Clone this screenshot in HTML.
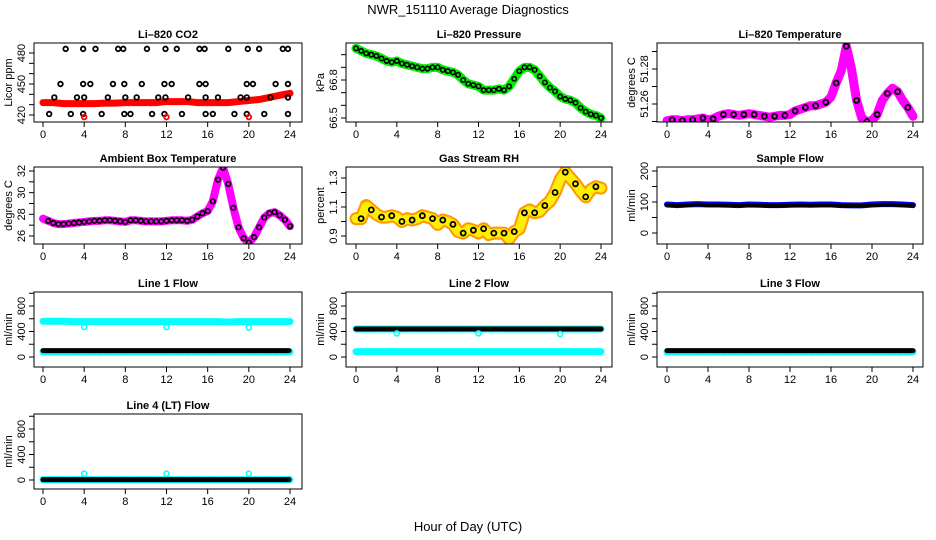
<!DOCTYPE html>
<html><head><meta charset="utf-8"><style>
body{margin:0;background:#fff;}
svg{display:block;font-family:"Liberation Sans",Arial,sans-serif;}
</style></head><body>
<svg id="chart" width="936" height="540" viewBox="0 0 936 540" xmlns="http://www.w3.org/2000/svg">
<rect width="936" height="540" fill="#fff"/>
<text x="468" y="14" font-size="13" text-anchor="middle">NWR_151110  Average Diagnostics</text>
<text x="468" y="531" font-size="13" text-anchor="middle">Hour of Day (UTC)</text>
</svg>
<script>
const NS='http://www.w3.org/2000/svg';
const svg=document.getElementById('chart');
const xTicks=[0,4,8,12,16,20,24];
const hrsHalf=[0,0.5,1,1.5,2,2.5,3,3.5,4,4.5,5,5.5,6,6.5,7,7.5,8,8.5,9,9.5,10,10.5,11,11.5,12,12.5,13,13.5,14,14.5,15,15.5,16,16.5,17,17.5,18,18.5,19,19.5,20,20.5,21,21.5,22,22.5,23,23.5,24];
const hrsHour=[0,1,2,3,4,5,6,7,8,9,10,11,12,13,14,15,16,17,18,19,20,21,22,23,24];
const co2Band=[432,432,431,431,431,431,431.5,431.5,432,432,432,432,433,433,433,432,432,432,432,433,434,435,437,439,441];
const co2Hrs=[0.6,1.1,1.7,2.2,2.7,3.3,3.9,3.9,4.0,3.9,4.6,5.1,5.7,6.3,6.8,7.3,7.8,7.9,7.9,8,8.5,9.1,9.6,10.1,10.6,11.2,11.8,11.9,11.8,11.9,12.5,13.0,13.5,14.1,15.2,15.2,15.7,15.8,15.8,15.8,16.5,17,18,18.6,19.2,19.8,19.8,19.8,19.9,20.4,21.0,21.5,22.1,22.6,23.3,23.8,23.8,23.8,23.8];
const co2Vals=[421,437,450,484,421,437,484,450,437,421,450,484,421,437,450,484,484,450,421,437,421,437,450,484,421,437,450,484,421,437,450,484,421,437,450,484,484,450,421,437,421,437,484,421,437,450,421,437,484,450,484,421,437,450,484,484,450,437,421];
const co2OutHrs=[4,12,20];
const co2OutVals=[418,418,418];
const pressVals=[67.05,67.03,67.01,67.0,66.99,66.97,66.95,66.94,66.95,66.93,66.92,66.91,66.90,66.89,66.89,66.90,66.90,66.88,66.87,66.86,66.84,66.80,66.77,66.76,66.75,66.72,66.72,66.72,66.73,66.72,66.75,66.81,66.87,66.90,66.90,66.88,66.83,66.78,66.74,66.71,66.67,66.65,66.64,66.62,66.58,66.55,66.53,66.52,66.50];
const tempVals=[51.2505,51.251,51.251,51.2505,51.251,51.251,51.2515,51.252,51.251,51.2515,51.253,51.254,51.2545,51.254,51.2535,51.254,51.2545,51.254,51.2535,51.253,51.2525,51.253,51.2535,51.2535,51.254,51.256,51.257,51.258,51.259,51.259,51.26,51.261,51.264,51.272,51.279,51.293,51.28,51.262,51.252,51.25,51.2505,51.254,51.262,51.266,51.269,51.267,51.262,51.258,51.253];
const ambVals=[27.6,27.4,27.2,27.1,27.1,27.15,27.2,27.25,27.3,27.35,27.4,27.4,27.45,27.45,27.4,27.35,27.3,27.45,27.45,27.4,27.35,27.35,27.35,27.35,27.4,27.45,27.45,27.45,27.4,27.5,27.8,28.1,28.3,29.2,31.2,32.3,30.8,28.6,26.8,25.8,25.4,25.9,26.8,27.7,28.1,28.2,27.9,27.5,26.9];
const rhVals=[1.02,1.02,1.11,1.08,1.05,1.03,1.03,1.04,1.03,1.00,1.02,1.01,1.02,1.04,1.03,1.02,0.98,1.01,1.00,0.98,0.93,0.92,0.95,0.94,0.92,0.95,0.91,0.92,0.92,0.92,0.88,0.93,0.95,1.06,1.08,1.06,1.07,1.11,1.14,1.20,1.29,1.34,1.30,1.26,1.21,1.17,1.22,1.24,1.23];
const sampleBand=[92,90,92,93,92,92,91,90,92,91,90,90,91,92,91,92,92,90,89,89,92,93,93,92,90];
const sampleBlack=[90,88,90,92,90,90,89,88,90,89,88,88,89,90,89,90,90,88,88,88,90,91,91,90,89];
const l1High=[560,560,560,555,555,555,555,555,555,555,555,555,555,555,555,555,555,555,550,555,555,555,555,555,555];
const l1Low=[80,80,80,80,80,80,80,80,80,80,80,80,80,80,80,80,80,80,80,80,80,80,80,80,80];
const l1Black=[100,100,100,100,100,100,100,100,100,100,100,100,100,100,100,100,100,100,100,100,100,100,100,100,100];
const l1DipHrs=[4,12,20];
const l1DipVals=[470,470,460];
const l2High=[440,440,440,440,440,440,440,440,440,440,440,440,440,440,440,440,440,440,440,440,440,440,440,440,440];
const l2Low=[85,85,85,85,85,85,85,85,85,85,85,85,85,85,85,85,85,85,85,85,85,85,85,85,85];
const l2Black=[440,440,440,440,440,440,440,440,440,440,440,440,440,440,440,440,440,440,440,440,440,440,440,440,440];
const l2DipHrs=[4,12,20];
const l2DipVals=[370,370,360];
const l3Cyan=[80,80,80,80,80,80,80,80,80,80,80,80,80,80,80,80,80,80,80,80,80,80,80,80,80];
const l3Black=[100,100,100,100,100,100,100,100,100,100,100,100,100,100,100,100,100,100,100,100,100,100,100,100,100];
const l4Cyan=[5,5,5,5,5,5,5,5,5,5,5,5,5,5,5,5,5,5,5,5,5,5,5,5,5];
const l4Black=[5,5,5,5,5,5,5,5,5,5,5,5,5,5,5,5,5,5,5,5,5,5,5,5,5];
const l4OutHrs=[4,12,20];
const l4OutVals=[100,100,100];

const cols=[{L:34,R:302,x0:43,x24:290},{L:346,R:612,x0:356,x24:601},{L:657,R:923,x0:667,x24:913}];
const rows=[{T:43,B:122},{T:167,B:244},{T:292,B:367},{T:414,B:489}];

function mk(tag,attrs,parent){const e=document.createElementNS(NS,tag);for(const k in attrs)e.setAttribute(k,attrs[k]);(parent||svg).appendChild(e);return e;}

function panel(name,title,ytitle,c,r,v1,p1,v2,p2,ticks,labels){
  const col=cols[c],row=rows[r];
  const g=mk('g',{});
  
  
  const xs=h=>col.x0+(col.x24-col.x0)*h/24;
  const ys=v=>p1+(v-v1)*(p2-p1)/(v2-v1);
  const t=mk('text',{x:(col.L+col.R)/2,y:row.T-5,'font-size':11,'font-weight':'bold','text-anchor':'middle'},g);
  t.textContent=title;
  
  
  const clip=mk('clipPath',{id:'clip-'+name},g);
  mk('rect',{x:col.L,y:row.T,width:col.R-col.L,height:row.B-row.T},clip);
  const plot=mk('g',{'clip-path':'url(#clip-'+name+')'},g);
  
  
  const box=mk('rect',{x:col.L,y:row.T,width:col.R-col.L,height:row.B-row.T,fill:'none',stroke:'#000','stroke-width':1},g);
  
  
  const xa=mk('g',{},g);
  
  
  mk('line',{x1:xs(0),x2:xs(24),y1:row.B,y2:row.B,stroke:'#000'},xa);
  xTicks.forEach(h=>{
    mk('line',{x1:xs(h),x2:xs(h),y1:row.B,y2:row.B+5,stroke:'#000'},xa);
    const tl=mk('text',{x:xs(h),y:row.B+16,'font-size':11,'text-anchor':'middle'},xa);
    tl.textContent=h;
  });
  const ya=mk('g',{},g);
  
  
  mk('line',{x1:col.L,x2:col.L,y1:ys(ticks[0]),y2:ys(ticks[ticks.length-1]),stroke:'#000'},ya);
  ticks.forEach(v=>{mk('line',{x1:col.L-5,x2:col.L,y1:ys(v),y2:ys(v),stroke:'#000'},ya);});
  labels.forEach(v=>{
    const y=ys(v),x=col.L-9;
    const tl=mk('text',{x:x,y:y,'font-size':11,'text-anchor':'middle',transform:'rotate(-90 '+x+' '+y+')'},ya);
    tl.textContent=v;
  });
  const yt=mk('text',{x:col.L-22,y:(row.T+row.B)/2,'font-size':11,'text-anchor':'middle',transform:'rotate(-90 '+(col.L-22)+' '+((row.T+row.B)/2)+')'},g);
  yt.textContent=ytitle;
  
  
  return {
    band(hrs,vals,color,w,extra){
      const pl=mk('polyline',{points:hrs.map((h,i)=>xs(h)+','+ys(vals[i])).join(' '),fill:'none',stroke:color,'stroke-width':w,'stroke-linejoin':'round','stroke-linecap':'round'},plot);
      if(extra)pl.setAttribute('stroke-dasharray',extra);
      
      
    },
    pts(hrs,vals,color,rad,sw){
      hrs.forEach((h,i)=>{
        const c=mk('circle',{cx:xs(h),cy:ys(vals[i]),r:rad,fill:'none',stroke:color,'stroke-width':sw},plot);
        
        
      });
    }
  };
}

let p;
p=panel('co2','Li\u2013820 CO2','Licor ppm',0,0,420,115,480,53,[420,430,440,450,460,470,480],[420,450,480]);
p.band(hrsHour,co2Band,'#ff0000',7);
p.pts(co2Hrs,co2Vals,'#000',2.3,1.8);
p.pts(co2OutHrs,co2OutVals,'#ff0000',2.3,1.8);

p=panel('pressure','Li\u2013820 Pressure','kPa',1,0,66.5,118,66.8,80,[66.5,66.6,66.7,66.8,66.9,67.0],[66.5,66.8]);
p.band(hrsHalf,pressVals,'#00ee00',9);
p.pts(hrsHalf,pressVals,'#000',2.2,1.6);

p=panel('li820-temp','Li\u2013820 Temperature','degrees C',2,0,51.26,104,51.28,69,[51.25,51.26,51.27,51.28,51.29],[51.26,51.28]);
p.band(hrsHalf,tempVals,'#ff00ff',9);
p.pts(hrsHalf.filter((h,i)=>i%2==1),tempVals.filter((v,i)=>i%2==1),'#000',2.5,1.8);

p=panel('ambient-temp','Ambient Box Temperature','degrees C',0,1,26,236,32,171,[26,27,28,29,30,31,32],[26,28,30,32]);
p.band(hrsHalf,ambVals,'#ff00ff',8);
p.pts(hrsHalf.filter((h,i)=>i>0),ambVals.filter((v,i)=>i>0),'#000',2.3,1.6);

p=panel('rh','Gas Stream RH','percent',1,1,0.9,236,1.3,178,[0.9,1.0,1.1,1.2,1.3],[0.9,1.1,1.3]);
p.band(hrsHalf,rhVals,'#ff9900',13);
p.band(hrsHalf,rhVals,'#ffee00',9,'2,2');
p.pts(hrsHalf.filter((h,i)=>i%2==1),rhVals.filter((v,i)=>i%2==1),'#000',2.5,1.8);

p=panel('sample-flow','Sample Flow','ml/min',2,1,0,233,200,171,[0,50,100,150,200],[0,100,200]);
p.band(hrsHour,sampleBand,'#0000ff',6);
p.band(hrsHour,sampleBlack,'#000',4,'4,1.5');

p=panel('line1-flow','Line 1 Flow','ml/min',0,2,0,357,800,306,[0,200,400,600,800,1000],[0,400,800]);
p.band(hrsHour,l1High,'#00ffff',7);
p.band(hrsHour,l1Low,'#00ffff',7);
p.band(hrsHour,l1Black,'#000',5,'4,1.5');
p.pts(l1DipHrs,l1DipVals,'#00ffff',2.5,1.5);

p=panel('line2-flow','Line 2 Flow','ml/min',1,2,0,357,800,306,[0,200,400,600,800,1000],[0,400,800]);
p.band(hrsHour,l2High,'#00ffff',7);
p.band(hrsHour,l2Low,'#00ffff',7);
p.band(hrsHour,l2Black,'#000',5,'4,1.5');
p.pts(l2DipHrs,l2DipVals,'#00ffff',2.5,1.5);

p=panel('line3-flow','Line 3 Flow','ml/min',2,2,0,357,800,306,[0,200,400,600,800,1000],[0,400,800]);
p.band(hrsHour,l3Cyan,'#00ffff',7);
p.band(hrsHour,l3Black,'#000',5,'4,1.5');

p=panel('line4-flow','Line 4 (LT) Flow','ml/min',0,3,0,480,800,429,[0,200,400,600,800,1000],[0,400,800]);
p.band(hrsHour,l4Cyan,'#00ffff',7);
p.band(hrsHour,l4Black,'#000',5,'4,1.5');
p.pts(l4OutHrs,l4OutVals,'#00ffff',2.5,1.5);
</script>
</body></html>
